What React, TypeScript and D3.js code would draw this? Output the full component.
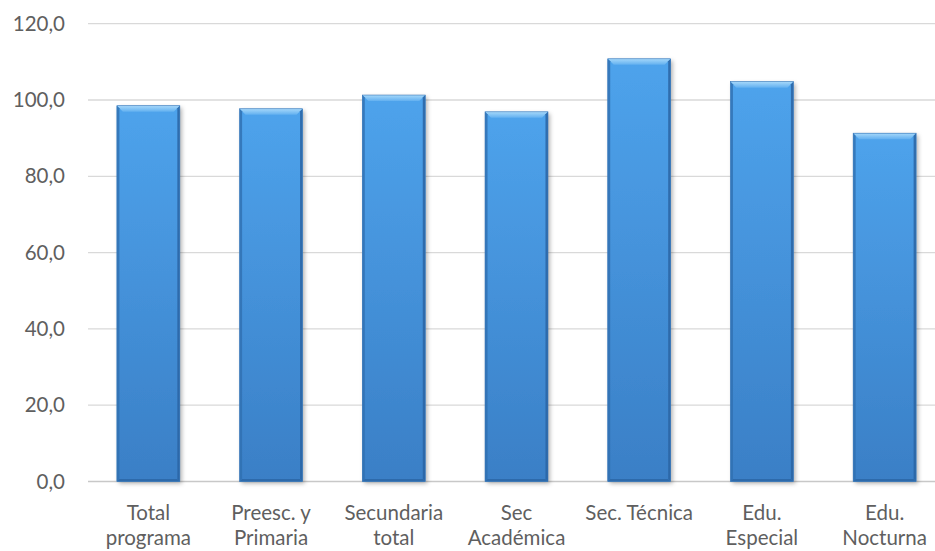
import React from "react";
import { scaleBand, scaleLinear } from "d3";

const categories = [
  "Total programa",
  "Preesc. y Primaria",
  "Secundaria total",
  "Sec Académica",
  "Sec. Técnica",
  "Edu. Especial",
  "Edu. Nocturna"
];
const labelLines = [
  ["Total", "programa"],
  ["Preesc. y", "Primaria"],
  ["Secundaria", "total"],
  ["Sec", "Académica"],
  ["Sec. Técnica"],
  ["Edu.", "Especial"],
  ["Edu.", "Nocturna"]
];
const values = [98.5, 97.7, 101.3, 96.9, 110.8, 104.8, 91.3];
const yTicks = [0, 20, 40, 60, 80, 100, 120];

const WIDTH = 935;
const HEIGHT = 551;
const LEFT = 87;
const RIGHT = 946;
const TOP = 23.7;
const BOTTOM = 481.5;
const FONT = "Lato, Carlito, 'Open Sans', sans-serif";

export default function App() {
  const x = scaleBand<string>()
    .domain(categories)
    .range([LEFT, RIGHT])
    .paddingInner(0.487)
    .paddingOuter(0.2435);
  const y = scaleLinear().domain([0, 120]).range([BOTTOM, TOP]);
  const fmt = (v: number) => v.toFixed(1).replace(".", ",");
  const bw = x.bandwidth();
  const bev = 6;
  const side = 2.5;

  return (
    <svg
      width={WIDTH}
      height={HEIGHT}
      style={{ position: "absolute", left: 0, top: 0, background: "#fff" }}
    >
      <defs>
        <linearGradient id="face" x1="0" y1="0" x2="0" y2="1">
          <stop offset="0" stopColor="#4ea3ec" />
          <stop offset="1" stopColor="#3a7fc6" />
        </linearGradient>
        <linearGradient id="topBev" x1="0" y1="0" x2="0" y2="1">
          <stop offset="0" stopColor="#a6d8fa" />
          <stop offset="1" stopColor="#62b0f0" />
        </linearGradient>
        <filter id="shadow" x="-20%" y="-10%" width="140%" height="120%">
          <feDropShadow dx="2" dy="2" stdDeviation="2" floodColor="#000" floodOpacity="0.3" />
        </filter>
      </defs>

      {yTicks.map(t => (
        <g key={t}>
          <line
            x1={LEFT + 1}
            x2={WIDTH}
            y1={y(t)}
            y2={y(t)}
            stroke={t === 0 ? "#c8c8c8" : "#d9d9d9"}
            strokeWidth={1.3}
          />
          <text
            x={65}
            y={y(t)}
            dy="0.35em"
            textAnchor="end"
            fontFamily={FONT}
            fontSize={20.5}
            fill="#5f5f5f"
          >
            {fmt(t)}
          </text>
        </g>
      ))}

      {categories.map((c, i) => {
        const x0 = x(c)!;
        const y0 = y(values[i]);
        const h = BOTTOM - y0;
        return (
          <g key={c}>
            <rect x={x0} y={y0} width={bw} height={h} fill="url(#face)" filter="url(#shadow)" />
            <polygon
              points={`${x0},${y0} ${x0 + bw},${y0} ${x0 + bw - bev},${y0 + bev} ${x0 + bev},${y0 + bev}`}
              fill="url(#topBev)"
            />
            <polygon
              points={`${x0},${y0} ${x0 + side},${y0 + side} ${x0 + side},${BOTTOM - side} ${x0},${BOTTOM}`}
              fill="#2f6fb0"
              opacity={0.8}
            />
            <polygon
              points={`${x0 + bw},${y0} ${x0 + bw - side},${y0 + side} ${x0 + bw - side},${BOTTOM - side} ${x0 + bw},${BOTTOM}`}
              fill="#2a64a3"
              opacity={0.85}
            />
            <polygon
              points={`${x0},${BOTTOM} ${x0 + side},${BOTTOM - side} ${x0 + bw - side},${BOTTOM - side} ${x0 + bw},${BOTTOM}`}
              fill="#2d6aab"
            />
            <rect x={x0} y={y0} width={bw} height={h} fill="none" stroke="#3a78b8" strokeWidth={0.6} />
          </g>
        );
      })}

      {categories.map((c, i) => (
        <text
          key={c}
          x={x(c)! + bw / 2}
          y={520}
          textAnchor="middle"
          fontFamily={FONT}
          fontSize={20.5}
          fill="#5f5f5f"
        >
          {labelLines[i].map((l, j) => (
            <tspan key={j} x={x(c)! + bw / 2} dy={j === 0 ? 0 : 24.5}>
              {l}
            </tspan>
          ))}
        </text>
      ))}
    </svg>
  );
}
